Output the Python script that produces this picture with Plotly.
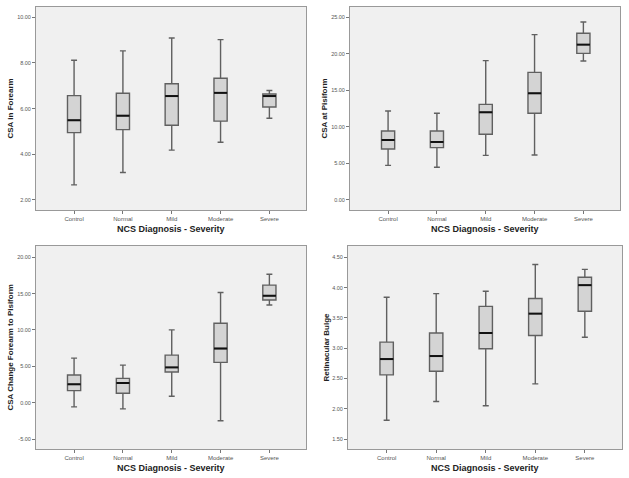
import plotly.graph_objects as go

categories = ["Control", "Normal", "Mild", "Moderate", "Severe"]

# Panel 1: CSA in Forearm
p1_min = [2.66, 3.20, 4.18, 4.53, 5.58]
p1_q1 = [4.95, 5.08, 5.27, 5.45, 6.07]
p1_med = [5.49, 5.69, 6.55, 6.69, 6.55]
p1_q3 = [6.57, 6.67, 7.09, 7.33, 6.64]
p1_max = [8.12, 8.53, 9.09, 9.02, 6.79]

# Panel 2: CSA at Pisiform
p2_min = [4.74, 4.47, 6.11, 6.16, 19.02]
p2_q1 = [6.98, 7.16, 8.99, 11.86, 20.07]
p2_med = [8.21, 7.94, 12.00, 14.60, 21.26]
p2_q3 = [9.44, 9.44, 13.09, 17.47, 22.81]
p2_max = [12.18, 11.86, 19.07, 22.63, 24.36]

# Panel 3: CSA Change Forearm to Pisiform
p3_min = [-0.57, -0.85, 0.89, -2.49, 13.43]
p3_q1 = [1.66, 1.30, 4.22, 5.54, 14.12]
p3_med = [2.53, 2.71, 4.85, 7.45, 14.71]
p3_q3 = [3.80, 3.35, 6.54, 10.92, 16.17]
p3_max = [6.13, 5.17, 10.01, 15.16, 17.67]

# Panel 4: Retinacular Bulge
p4_min = [1.81, 2.12, 2.05, 2.41, 3.18]
p4_q1 = [2.56, 2.62, 2.99, 3.21, 3.61]
p4_med = [2.82, 2.87, 3.25, 3.57, 4.04]
p4_q3 = [3.10, 3.25, 3.69, 3.82, 4.17]
p4_max = [3.84, 3.90, 3.94, 4.38, 4.30]

y_titles = ["CSA in Forearm", "CSA at Pisiform",
            "CSA Change Forearm to Pisiform", "Retinacular Bulge"]
x_title = "NCS Diagnosis - Severity"
y_ticks = [[2, 4, 6, 8, 10], [0, 5, 10, 15, 20, 25],
           [-5, 0, 5, 10, 15, 20], [1.5, 2.0, 2.5, 3.0, 3.5, 4.0, 4.5]]
y_ranges = [[1.56, 10.45], [-1.37, 26.41], [-6.37, 21.55], [1.336, 4.686]]

panels = [
    (p1_min, p1_q1, p1_med, p1_q3, p1_max),
    (p2_min, p2_q1, p2_med, p2_q3, p2_max),
    (p3_min, p3_q1, p3_med, p3_q3, p3_max),
    (p4_min, p4_q1, p4_med, p4_q3, p4_max),
]

W, H = 629, 478
# frames in pixels: (left, right, top, bottom)
frames = [(36, 306, 7, 210), (350, 620, 7, 210),
          (36, 306, 246, 449), (348, 622, 246, 449)]
ytitle_x = [10, 324, 10, 326]

FONT = "Liberation Sans, Arial, sans-serif"
BOX_W = 0.27
xpos = list(range(len(categories)))

fig = go.Figure()
layout = dict(
    width=W, height=H, margin=dict(l=0, r=0, t=0, b=0),
    paper_bgcolor="white", plot_bgcolor="#F0F0F0",
    showlegend=False, font=dict(family=FONT, size=7, color="#333"),
)
annotations = []
for i, (mn, q1, md, q3, mx) in enumerate(panels):
    sfx = "" if i == 0 else str(i + 1)
    xa, ya = "x" + sfx, "y" + sfx
    fig.add_trace(go.Box(
        x=xpos, lowerfence=mn, q1=q1, median=md, q3=q3, upperfence=mx,
        width=BOX_W, whiskerwidth=0.45, fillcolor="#D4D4D4",
        line=dict(color="#606060", width=1.4), xaxis=xa, yaxis=ya,
        hoverinfo="skip",
    ))
    # median lines derived from data
    mxs, mys = [], []
    for xv, m in zip(xpos, md):
        mxs += [xv - BOX_W / 2, xv + BOX_W / 2, None]
        mys += [m, m, None]
    fig.add_trace(go.Scatter(x=mxs, y=mys, mode="lines",
                             line=dict(color="#111", width=2),
                             xaxis=xa, yaxis=ya, hoverinfo="skip"))
    l, r, t, b = frames[i]
    layout["xaxis" + sfx] = dict(
        domain=[l / W, r / W], range=[-0.78, 4.75], anchor=ya,
        tickmode="array", tickvals=xpos, ticktext=categories,
        ticks="outside", ticklen=3, tickcolor="#777",
        showgrid=False, zeroline=False, showline=True, mirror=True,
        linecolor="#999", linewidth=1,
        tickfont=dict(size=6, color="#555"),
    )
    layout["yaxis" + sfx] = dict(
        domain=[1 - b / H, 1 - t / H], range=y_ranges[i], anchor=xa,
        tickmode="array", tickvals=y_ticks[i],
        ticktext=["%.2f" % v for v in y_ticks[i]],
        ticks="outside", ticklen=3, tickcolor="#777",
        showgrid=False, zeroline=False, showline=True, mirror=True,
        linecolor="#999", linewidth=1,
        tickfont=dict(size=5.5, color="#555"),
    )
    annotations.append(dict(
        text="<b>%s</b>" % x_title, xref="paper", yref="paper",
        x=((l + r) / 2) / W, y=1 - (b + 19) / H, showarrow=False,
        xanchor="center", yanchor="middle",
        font=dict(size=9, color="#222", family=FONT)))
    annotations.append(dict(
        text="<b>%s</b>" % y_titles[i], xref="paper", yref="paper",
        x=ytitle_x[i] / W, y=1 - ((t + b) / 2) / H, showarrow=False,
        textangle=-90, xanchor="center", yanchor="middle",
        font=dict(size=8, color="#222", family=FONT)))

layout["annotations"] = annotations
fig.update_layout(**layout)
fig.write_html("out.html", config={"displayModeBar": False},
               post_script="document.body.style.margin='0px';")
